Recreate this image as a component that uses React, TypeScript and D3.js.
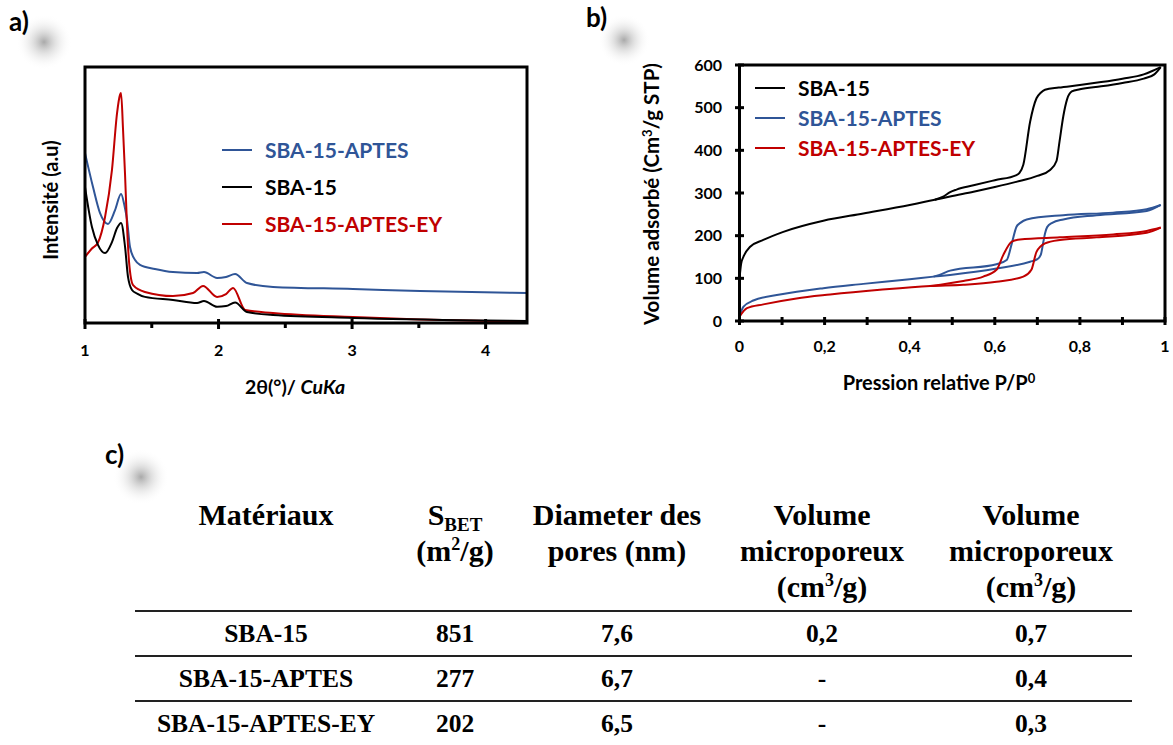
import React from 'react';
import * as d3 from 'd3';

// ---------- Panel a : XRD (2θ, intensity a.u.) ----------
const xrdSBA15: [number, number][] = [
  [1.0, 53.1], [1.052, 37.5], [1.097, 30.5], [1.15, 27.3], [1.202, 31.6], [1.24, 37.1], [1.27, 39.1],
  [1.3, 29.7], [1.322, 18.0], [1.352, 12.9], [1.39, 11.5], [1.449, 10.2], [1.659, 9.0], [1.839, 7.8],
  [1.891, 8.6], [1.989, 6.3], [2.056, 6.6], [2.124, 8.0], [2.213, 4.3], [2.408, 3.1], [3.007, 2.0],
  [4.011, 1.0], [4.311, 0.8],
];
const xrdAPTES: [number, number][] = [
  [1.0, 66.4], [1.06, 53.1], [1.112, 43.0], [1.172, 38.7], [1.225, 44.1], [1.27, 50.4], [1.295, 46.0],
  [1.315, 40.2], [1.337, 29.7], [1.375, 24.6], [1.412, 22.7], [1.524, 21.1], [1.659, 19.9], [1.839, 19.5],
  [1.891, 19.9], [1.989, 17.6], [2.056, 18.0], [2.124, 19.1], [2.213, 15.6], [2.408, 14.1], [3.007, 13.3],
  [3.509, 12.5], [4.311, 11.7],
];
const xrdEY: [number, number][] = [
  [1.0, 25.8], [1.05, 29.0], [1.097, 31.4], [1.15, 41.4], [1.202, 59.8], [1.24, 82.0], [1.262, 89.1],
  [1.27, 89.8], [1.285, 75.4], [1.3, 57.8], [1.315, 37.5], [1.33, 23.8], [1.36, 14.8], [1.449, 12.1],
  [1.659, 10.5], [1.809, 11.7], [1.884, 14.5], [1.989, 10.2], [2.056, 11.3], [2.109, 13.7], [2.199, 5.1],
  [2.408, 3.9], [3.007, 2.3], [3.509, 1.4], [4.311, 0.4],
];
const xrdTicks = [1, 2, 3, 4];
const xrdMinorTicks = [1.5, 2.5, 3.5];

// ---------- Panel b : N2 isotherms ----------
const sbaAds: [number, number][] = [
  [0, 100], [0.004, 135], [0.009, 150], [0.025, 174], [0.056, 190], [0.103, 209], [0.197, 235], [0.291, 252],
  [0.4, 272], [0.459, 284], [0.495, 292], [0.55, 303], [0.6, 314], [0.65, 326], [0.7, 340], [0.73, 354],
  [0.745, 375], [0.752, 420], [0.761, 480], [0.77, 520], [0.781, 538], [0.8, 543], [0.85, 550], [0.9, 558],
  [0.95, 568], [0.975, 578], [0.99, 595],
];
const sbaDes: [number, number][] = [
  [0.459, 284], [0.48, 292], [0.495, 302], [0.51, 308], [0.55, 318], [0.6, 330], [0.651, 342], [0.658, 347],
  [0.667, 366], [0.683, 467], [0.698, 522], [0.708, 535], [0.718, 542], [0.75, 547], [0.8, 553], [0.85, 560],
  [0.9, 568], [0.95, 578], [0.97, 586], [0.99, 595],
];
const aptesAds: [number, number][] = [
  [0, 10], [0.009, 33], [0.0325, 48], [0.095, 62], [0.197, 77], [0.291, 87], [0.4, 98], [0.456, 104],
  [0.495, 108], [0.604, 123], [0.683, 139], [0.7, 145], [0.708, 155], [0.714, 185], [0.718, 205],
  [0.723, 220], [0.735, 230], [0.761, 238], [0.839, 248], [0.957, 258], [0.99, 272],
];
const aptesDes: [number, number][] = [
  [0.456, 104], [0.47, 108], [0.495, 118], [0.604, 133], [0.628, 143], [0.64, 182], [0.651, 221],
  [0.66, 230], [0.675, 238], [0.761, 248], [0.878, 254], [0.957, 262], [0.99, 272],
];
const eyAds: [number, number][] = [
  [0, 10], [0.0175, 30], [0.056, 39], [0.134, 53], [0.213, 62], [0.33, 73], [0.448, 82], [0.526, 85],
  [0.604, 92], [0.667, 104], [0.686, 120], [0.698, 162], [0.718, 182], [0.753, 190], [0.839, 196],
  [0.957, 207], [0.99, 219],
];
const eyDes: [number, number][] = [
  [0.448, 82], [0.526, 94], [0.573, 104], [0.604, 120], [0.62, 155], [0.64, 186], [0.659, 191],
  [0.753, 196], [0.878, 203], [0.957, 211], [0.99, 219],
];
const isoXTicks = [0, 0.2, 0.4, 0.6, 0.8, 1];
const isoXMinor = [0.1, 0.3, 0.5, 0.7, 0.9];
const isoYTicks = [0, 100, 200, 300, 400, 500, 600];

// ---------- Panel c : table ----------
const materials = ['SBA-15', 'SBA-15-APTES', 'SBA-15-APTES-EY'];
const sBET = ['851', '277', '202'];
const poreDiam = ['7,6', '6,7', '6,5'];
const microVol = ['0,2', '-', '-'];
const totalVol = ['0,7', '0,4', '0,3'];

const BLACK = '#000000';
const BLUE = '#2F5597';
const RED = '#C00000';
const SANS = 'Lato, "Open Sans", sans-serif';
const SERIF = '"Liberation Serif", "Times New Roman", serif';

export default function App() {
  // panel a scales
  const xA = d3.scaleLinear().domain([1, 4.31]).range([85, 527]);
  const yA = d3.scaleLinear().domain([0, 100]).range([323, 67]);
  const lineA = d3.line<[number, number]>().x(d => xA(d[0])).y(d => yA(d[1])).curve(d3.curveMonotoneX);

  // panel b scales
  const xB = d3.scaleLinear().domain([0, 1]).range([739.5, 1165]);
  const yB = d3.scaleLinear().domain([0, 600]).range([321, 65]);
  const lineB = d3.line<[number, number]>().x(d => xB(d[0])).y(d => yB(d[1])).curve(d3.curveMonotoneX);

  const fmtComma = (v: number) => (v === 0 || v === 1 ? String(v) : String(v).replace('.', ','));

  const rowBase = [642, 687, 732];
  const ruleY = [611, 656, 701];
  const colX = [266, 455, 617, 822, 1031];

  return (
    <svg width={1173} height={745} style={{ position: 'absolute', left: 0, top: 0, background: '#fff' }}>
      <defs>
        <radialGradient id="blob">
          <stop offset="0%" stopColor="#9a9a9a" stopOpacity={0.85} />
          <stop offset="40%" stopColor="#c4c4c4" stopOpacity={0.5} />
          <stop offset="100%" stopColor="#ffffff" stopOpacity={0} />
        </radialGradient>
      </defs>
      <rect x={0} y={0} width={1173} height={745} fill="#fff" />
      <circle cx={44} cy={42} r={28} fill="url(#blob)" />
      <circle cx={624} cy={40} r={26} fill="url(#blob)" />
      <circle cx={141} cy={477} r={28} fill="url(#blob)" />

      {/* panel labels */}
      <text x={9} y={31} fontFamily={SANS} fontWeight="bold" fontSize={26}>a)</text>
      <text x={586} y={27} fontFamily={SANS} fontWeight="bold" fontSize={26}>b)</text>
      <text x={105} y={464} fontFamily={SANS} fontWeight="bold" fontSize={26}>c)</text>

      {/* ===== Panel a ===== */}
      <g>
        <path d={lineA(xrdAPTES) || ''} fill="none" stroke={BLUE} strokeWidth={2} />
        <path d={lineA(xrdEY) || ''} fill="none" stroke={RED} strokeWidth={2} />
        <path d={lineA(xrdSBA15) || ''} fill="none" stroke={BLACK} strokeWidth={2} />
        <rect x={85} y={67} width={442} height={256} fill="none" stroke="#000" strokeWidth={3} />
        {xrdTicks.map(t => (
          <g key={t}>
            <line x1={xA(t)} x2={xA(t)} y1={319} y2={329} stroke="#000" strokeWidth={3} />
            <text x={xA(t)} y={356} textAnchor="middle" fontFamily={SANS} fontWeight="bold" fontSize={16}>{t}</text>
          </g>
        ))}
        {xrdMinorTicks.map(t => (
          <line key={t} x1={xA(t)} x2={xA(t)} y1={323} y2={328} stroke="#000" strokeWidth={3} />
        ))}
        <text x={295} y={394} textAnchor="middle" fontFamily={SANS} fontWeight="bold" fontSize={19.5}>
          2θ(°)/ <tspan fontStyle="italic">CuKa</tspan>
        </text>
        <text transform="translate(58,200) rotate(-90)" textAnchor="middle" fontFamily={SANS} fontWeight="bold" fontSize={20}>
          Intensité (a.u)
        </text>
        {[
          { label: 'SBA-15-APTES', color: BLUE, y: 150 },
          { label: 'SBA-15', color: BLACK, y: 187 },
          { label: 'SBA-15-APTES-EY', color: RED, y: 224 },
        ].map(l => (
          <g key={l.label}>
            <line x1={222} x2={252} y1={l.y} y2={l.y} stroke={l.color} strokeWidth={2} />
            <text x={265} y={l.y + 7.5} fontFamily={SANS} fontWeight="bold" fontSize={21} fill={l.color}>{l.label}</text>
          </g>
        ))}
      </g>

      {/* ===== Panel b ===== */}
      <g>
        <path d={lineB(sbaAds) || ''} fill="none" stroke={BLACK} strokeWidth={2} />
        <path d={lineB(sbaDes) || ''} fill="none" stroke={BLACK} strokeWidth={2} />
        <path d={lineB(aptesAds) || ''} fill="none" stroke={BLUE} strokeWidth={2} />
        <path d={lineB(aptesDes) || ''} fill="none" stroke={BLUE} strokeWidth={2} />
        <path d={lineB(eyAds) || ''} fill="none" stroke={RED} strokeWidth={2} />
        <path d={lineB(eyDes) || ''} fill="none" stroke={RED} strokeWidth={2} />
        <rect x={739.5} y={65} width={425.5} height={256} fill="none" stroke="#000" strokeWidth={3} />
        {isoXTicks.map(t => (
          <g key={t}>
            <line x1={xB(t)} x2={xB(t)} y1={317} y2={325} stroke="#000" strokeWidth={3} />
            <text x={xB(t)} y={352} textAnchor="middle" fontFamily={SANS} fontWeight="bold" fontSize={16}>{fmtComma(t)}</text>
          </g>
        ))}
        {isoXMinor.map(t => (
          <line key={t} x1={xB(t)} x2={xB(t)} y1={317} y2={325} stroke="#000" strokeWidth={3} />
        ))}
        {isoYTicks.map(t => (
          <g key={t}>
            <line x1={735} x2={744} y1={yB(t)} y2={yB(t)} stroke="#000" strokeWidth={3} />
            <text x={722} y={yB(t) + 5.5} textAnchor="end" fontFamily={SANS} fontWeight="bold" fontSize={16}>{t}</text>
          </g>
        ))}
        <text x={939} y={390} textAnchor="middle" fontFamily={SANS} fontWeight="bold" fontSize={20}>
          Pression relative P/P<tspan dy={-7} fontSize={13}>0</tspan>
        </text>
        <text transform="translate(659,194) rotate(-90)" textAnchor="middle" fontFamily={SANS} fontWeight="bold" fontSize={20.5}>
          Volume adsorbé (Cm<tspan dy={-7} fontSize={13}>3</tspan><tspan dy={7}>/g STP)</tspan>
        </text>
        {[
          { label: 'SBA-15', color: BLACK, y: 88 },
          { label: 'SBA-15-APTES', color: BLUE, y: 118 },
          { label: 'SBA-15-APTES-EY', color: RED, y: 148 },
        ].map(l => (
          <g key={l.label}>
            <line x1={755} x2={785} y1={l.y} y2={l.y} stroke={l.color} strokeWidth={2} />
            <text x={798} y={l.y + 7.5} fontFamily={SANS} fontWeight="bold" fontSize={21} fill={l.color}>{l.label}</text>
          </g>
        ))}
      </g>

      {/* ===== Panel c : table ===== */}
      <g fontFamily={SERIF} fontWeight="bold" fill="#000" textAnchor="middle">
        <text x={colX[0]} y={525} fontSize={30}>Matériaux</text>
        <text x={colX[1]} y={525} fontSize={30}>S<tspan fontSize={19} dy={6}>BET</tspan></text>
        <text x={colX[1]} y={561} fontSize={30}>(m<tspan fontSize={18} dy={-11}>2</tspan><tspan dy={11}>/g)</tspan></text>
        <text x={colX[2]} y={525} fontSize={30}>Diameter des</text>
        <text x={colX[2]} y={561} fontSize={30}>pores (nm)</text>
        <text x={colX[3]} y={525} fontSize={30}>Volume</text>
        <text x={colX[3]} y={561} fontSize={30}>microporeux</text>
        <text x={colX[3]} y={597} fontSize={30}>(cm<tspan fontSize={18} dy={-11}>3</tspan><tspan dy={11}>/g)</tspan></text>
        <text x={colX[4]} y={525} fontSize={30}>Volume</text>
        <text x={colX[4]} y={561} fontSize={30}>microporeux</text>
        <text x={colX[4]} y={597} fontSize={30}>(cm<tspan fontSize={18} dy={-11}>3</tspan><tspan dy={11}>/g)</tspan></text>
        {ruleY.map(y => (
          <line key={y} x1={135} x2={1132} y1={y} y2={y} stroke="#222" strokeWidth={2} />
        ))}
        {materials.map((m, i) => (
          <g key={m} fontSize={25.5}>
            <text x={colX[0]} y={rowBase[i]}>{m}</text>
            <text x={colX[1]} y={rowBase[i]}>{sBET[i]}</text>
            <text x={colX[2]} y={rowBase[i]}>{poreDiam[i]}</text>
            <text x={colX[3]} y={rowBase[i]}>{microVol[i]}</text>
            <text x={colX[4]} y={rowBase[i]}>{totalVol[i]}</text>
          </g>
        ))}
      </g>
    </svg>
  );
}
